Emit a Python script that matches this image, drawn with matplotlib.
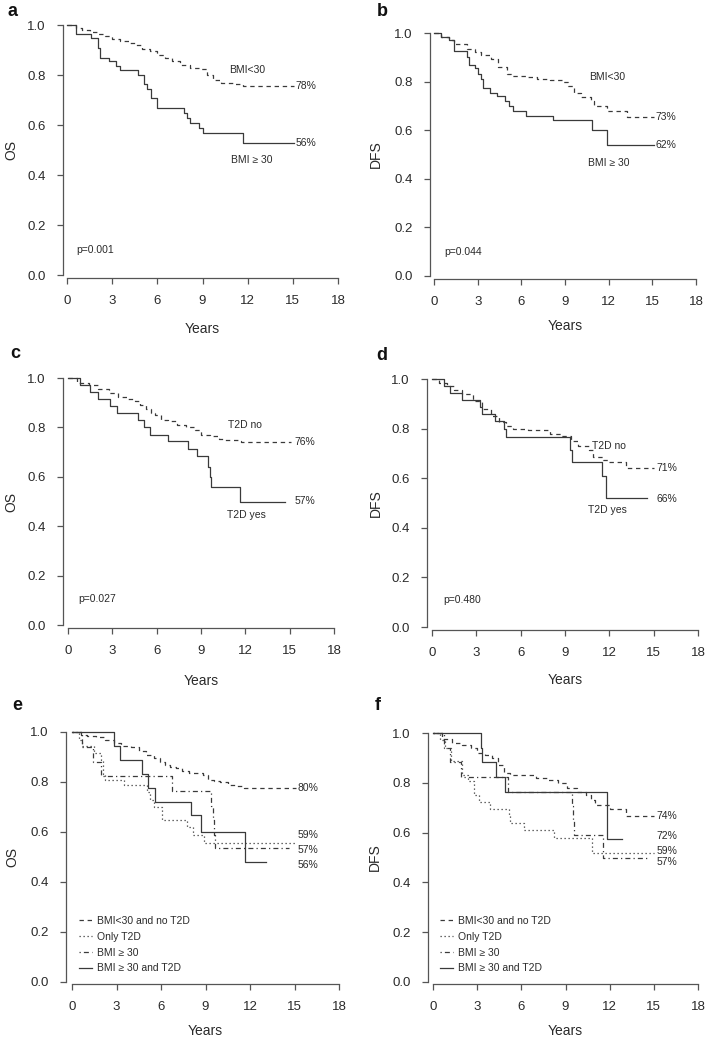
import numpy as np
import matplotlib
matplotlib.use("Agg")
import matplotlib.pyplot as plt

plt.rcParams['font.family'] = ['Liberation Sans', 'DejaVu Sans']

W, H = 708, 1040

# ---- data (Kaplan-Meier step curves) ----
# panel a: OS by BMI
a_lo_t = [0, 0.6, 1.0, 1.5, 2.0, 2.5, 3.0, 3.5, 4.2, 4.6, 5.0, 5.5, 6.0, 6.5, 7.0, 7.5, 8.2, 8.9, 9.3, 9.7, 10.2, 11.0, 11.7, 15.1]
a_lo_s = [1.0, 0.99, 0.98, 0.972, 0.965, 0.955, 0.945, 0.935, 0.93, 0.92, 0.905, 0.895, 0.88, 0.87, 0.855, 0.84, 0.83, 0.825, 0.80, 0.78, 0.77, 0.765, 0.755, 0.755]
a_hi_t = [0, 0.6, 1.6, 2.05, 2.2, 2.8, 3.25, 3.5, 4.7, 5.1, 5.3, 5.6, 6.0, 7.8, 8.0, 8.2, 8.75, 9.0, 11.7, 15.1]
a_hi_s = [1.0, 0.965, 0.947, 0.91, 0.87, 0.855, 0.837, 0.82, 0.80, 0.765, 0.745, 0.71, 0.67, 0.65, 0.63, 0.61, 0.59, 0.568, 0.528, 0.528]

# panel b: DFS by BMI
b_lo_t = [0, 0.5, 1.0, 1.4, 2.3, 2.8, 3.2, 3.9, 4.4, 5.0, 5.3, 6.4, 7.1, 8.0, 8.8, 9.2, 9.6, 10.1, 10.8, 11.0, 11.9, 13.25, 15.1]
b_lo_s = [1.0, 0.985, 0.97, 0.955, 0.935, 0.92, 0.91, 0.895, 0.86, 0.83, 0.825, 0.82, 0.81, 0.805, 0.80, 0.78, 0.755, 0.735, 0.72, 0.70, 0.68, 0.653, 0.653]
b_hi_t = [0, 0.5, 1.0, 1.4, 2.25, 2.4, 2.8, 3.0, 3.2, 3.35, 3.85, 4.3, 4.9, 5.15, 5.4, 6.3, 8.2, 10.85, 11.86, 15.1]
b_hi_s = [1.0, 0.985, 0.97, 0.925, 0.90, 0.87, 0.855, 0.83, 0.81, 0.775, 0.755, 0.74, 0.72, 0.70, 0.68, 0.66, 0.64, 0.60, 0.54, 0.54]

# panel c: OS by T2D
c_no_t = [0, 0.6, 1.4, 2.0, 2.8, 3.4, 4.0, 4.5, 4.9, 5.3, 5.6, 5.9, 6.3, 6.8, 7.4, 8.0, 8.6, 9.0, 9.6, 10.2, 10.6, 11.6, 11.7, 15.1]
c_no_s = [1.0, 0.98, 0.97, 0.955, 0.94, 0.925, 0.915, 0.905, 0.89, 0.875, 0.86, 0.85, 0.83, 0.825, 0.81, 0.80, 0.79, 0.77, 0.765, 0.755, 0.75, 0.745, 0.74, 0.74]
c_yes_t = [0, 0.83, 1.46, 2.0, 2.86, 3.3, 4.77, 5.15, 5.56, 6.8, 8.15, 8.76, 9.5, 9.6, 9.7, 11.65, 14.7]
c_yes_s = [1.0, 0.972, 0.943, 0.915, 0.886, 0.857, 0.829, 0.80, 0.771, 0.743, 0.714, 0.683, 0.64, 0.60, 0.56, 0.50, 0.50]

# panel d: DFS by T2D
d_no_t = [0, 0.5, 1.0, 1.5, 2.0, 2.8, 3.4, 4.0, 4.5, 5.0, 5.5, 6.5, 8.0, 8.7, 9.4, 9.9, 10.6, 10.9, 11.6, 12.0, 13.15, 15.0]
d_no_s = [1.0, 0.985, 0.97, 0.955, 0.94, 0.91, 0.88, 0.85, 0.825, 0.81, 0.80, 0.795, 0.78, 0.77, 0.75, 0.73, 0.715, 0.685, 0.675, 0.665, 0.643, 0.643]
d_yes_t = [0, 0.8, 1.24, 2.0, 3.27, 3.35, 4.27, 4.85, 5.03, 9.37, 9.48, 11.47, 11.8, 14.56]
d_yes_s = [1.0, 0.972, 0.943, 0.914, 0.886, 0.857, 0.829, 0.80, 0.766, 0.714, 0.667, 0.607, 0.52, 0.52]

# panel e: OS, four groups
e_lo_t = [0, 0.6, 1.0, 1.6, 2.2, 2.8, 3.3, 4.0, 4.5, 5.0, 5.5, 5.9, 6.3, 6.6, 7.0, 7.4, 7.9, 8.8, 9.2, 9.6, 10.0, 10.5, 11.0, 11.6, 15.1]
e_lo_s = [1.0, 0.99, 0.985, 0.98, 0.97, 0.955, 0.945, 0.94, 0.925, 0.91, 0.895, 0.88, 0.87, 0.86, 0.855, 0.845, 0.835, 0.83, 0.81, 0.805, 0.80, 0.79, 0.785, 0.775, 0.775]
e_t2d_t = [0, 0.5, 0.7, 1.45, 1.95, 2.06, 2.2, 3.5, 5.08, 5.26, 5.5, 6.08, 7.76, 8.17, 8.93, 15.03]
e_t2d_s = [1.0, 0.97, 0.944, 0.917, 0.889, 0.833, 0.81, 0.787, 0.76, 0.73, 0.70, 0.65, 0.62, 0.59, 0.556, 0.556]
e_bmi_t = [0, 0.7, 1.4, 1.95, 6.76, 9.37, 9.5, 9.6, 9.66, 14.6]
e_bmi_s = [1.0, 0.941, 0.882, 0.824, 0.765, 0.706, 0.647, 0.59, 0.535, 0.535]
e_both_t = [0, 2.84, 3.22, 4.74, 5.15, 5.57, 8.05, 8.7, 11.68, 13.1]
e_both_s = [1.0, 0.944, 0.889, 0.833, 0.778, 0.722, 0.667, 0.60, 0.48, 0.48]

# panel f: DFS, four groups
f_lo_t = [0, 0.6, 1.3, 2.0, 2.6, 3.0, 3.5, 4.0, 4.4, 4.8, 5.2, 7.0, 7.8, 8.5, 9.1, 9.8, 10.4, 10.7, 11.0, 12.0, 13.1, 15.0]
f_lo_s = [1.0, 0.975, 0.96, 0.95, 0.94, 0.92, 0.91, 0.90, 0.87, 0.84, 0.83, 0.82, 0.81, 0.80, 0.78, 0.765, 0.75, 0.73, 0.71, 0.695, 0.668, 0.668]
f_t2d_t = [0, 0.5, 0.8, 1.2, 1.97, 2.4, 2.76, 3.1, 3.9, 5.14, 5.25, 6.2, 8.2, 10.8, 15.0]
f_t2d_s = [1.0, 0.97, 0.94, 0.889, 0.833, 0.806, 0.75, 0.722, 0.694, 0.667, 0.639, 0.611, 0.58, 0.52, 0.52]
f_bmi_t = [0, 0.72, 1.18, 1.9, 5.07, 9.43, 9.5, 9.56, 11.54, 14.6]
f_bmi_s = [1.0, 0.941, 0.882, 0.824, 0.765, 0.706, 0.647, 0.59, 0.50, 0.50]
f_both_t = [0, 3.26, 3.33, 4.3, 4.9, 11.8, 12.83]
f_both_s = [1.0, 0.941, 0.882, 0.824, 0.765, 0.573, 0.573]

legend_labels = ["BMI<30 and no T2D", "Only T2D", "BMI \u2265 30", "BMI \u2265 30 and T2D"]
pvals = {"a": "p=0.001", "b": "p=0.044", "c": "p=0.027", "d": "p=0.480"}

LC = "#3a3a3a"
TC = "#2a2a2a"
DASH = (0, (3.5, 3))
DOT = (0, (1, 2.2))
DASHDOT = (0, (1, 2.5, 4, 2.5))

fig = plt.figure(figsize=(W / 100, H / 100), dpi=100)


def make_axes(geo):
    # geo: y-axis x, x=0 px, x=18 px, x-axis y, y=0 px, y=1 px
    yax, x0, x18, xax, y0, y1 = geo
    ppx = (x18 - x0) / 18
    ppy = (y0 - y1)
    right = x18 + 6
    top = y1 - 6
    ax = fig.add_axes([yax / W, (H - xax) / H, (right - yax) / W, (xax - top) / H])
    ax.set_xlim(-(x0 - yax) / ppx, 18 + 6 / ppx)
    ax.set_ylim(-(xax - y0) / ppy, 1 + 6 / ppy)
    for s in ["top", "right"]:
        ax.spines[s].set_visible(False)
    for s in ["left", "bottom"]:
        ax.spines[s].set_color("#555555")
        ax.spines[s].set_linewidth(0.9)
    ax.spines["left"].set_bounds(0, 1)
    ax.spines["bottom"].set_bounds(0, 18)
    ax.set_xticks(np.arange(0, 19, 3))
    ax.set_yticks(np.arange(0, 1.01, 0.2))
    ax.set_yticklabels(["%.1f" % v for v in np.arange(0, 1.01, 0.2)])
    ax.tick_params(length=4.3, width=0.9, pad=8, labelsize=9.5,
                   colors="#555555", labelcolor=TC)
    ax.patch.set_visible(False)
    xc = (x0 + x18) / 2
    return ax, xc, (y0 + y1) / 2


def kmstep(ax, t, s, ls):
    ax.step(t, s, where="post", color=LC, lw=0.9, linestyle=ls)


def txt(ax, x, y, s, ha="left", size=7.5):
    ax.text(x, y, s, ha=ha, va="center", fontsize=size, color=TC)


geos = {
    "a": (63, 67, 338, 278, 275, 25),
    "b": (430, 434, 696, 279, 276, 33),
    "c": (63, 68, 334, 628, 625, 378),
    "d": (427, 432, 698, 630, 627, 379),
    "e": (66, 72, 339, 984, 982, 732),
    "f": (428, 433, 698, 984, 982, 733),
}
ylabels = {"a": "OS", "b": "DFS", "c": "OS", "d": "DFS", "e": "OS", "f": "DFS"}
ylab_x = {"a": 11, "b": 376, "c": 11, "d": 376, "e": 12, "f": 375}
years_y = {"a": 329, "b": 326, "c": 681, "d": 680, "e": 1031, "f": 1031}
letter_pos = {"a": (8, 16), "b": (377, 16), "c": (10, 358), "d": (376, 360), "e": (12, 710), "f": (375, 710)}

axes = {}
for k, g in geos.items():
    ax, xc, yc = make_axes(g)
    axes[k] = ax
    fig.text(xc / W, 1 - years_y[k] / H, "Years", ha="center", va="center", fontsize=10, color=TC)
    fig.text(ylab_x[k] / W, 1 - yc / H, ylabels[k], ha="center", va="center",
             rotation=90, fontsize=10, color=TC)
    lx, ly = letter_pos[k]
    fig.text(lx / W, 1 - ly / H, k, ha="left", va="baseline", fontsize=13,
             fontweight="bold", color="#111111")

# a
ax = axes["a"]
kmstep(ax, a_lo_t, a_lo_s, DASH)
kmstep(ax, a_hi_t, a_hi_s, "-")
txt(ax, 12.0, 0.82, "BMI<30", ha="center")
txt(ax, 15.15, 0.755, "78%")
txt(ax, 15.15, 0.528, "56%")
txt(ax, 12.3, 0.46, "BMI \u2265 30", ha="center")
txt(ax, 0.6, 0.10, pvals["a"])

# b
ax = axes["b"]
kmstep(ax, b_lo_t, b_lo_s, DASH)
kmstep(ax, b_hi_t, b_hi_s, "-")
txt(ax, 11.9, 0.82, "BMI<30", ha="center")
txt(ax, 15.2, 0.653, "73%")
txt(ax, 15.2, 0.54, "62%")
txt(ax, 12.0, 0.463, "BMI \u2265 30", ha="center")
txt(ax, 0.73, 0.10, pvals["b"])

# c
ax = axes["c"]
kmstep(ax, c_no_t, c_no_s, DASH)
kmstep(ax, c_yes_t, c_yes_s, "-")
txt(ax, 12.0, 0.81, "T2D no", ha="center")
txt(ax, 15.3, 0.74, "76%")
txt(ax, 15.3, 0.50, "57%")
txt(ax, 12.1, 0.445, "T2D yes", ha="center")
txt(ax, 0.72, 0.107, pvals["c"])

# d
ax = axes["d"]
kmstep(ax, d_no_t, d_no_s, DASH)
kmstep(ax, d_yes_t, d_yes_s, "-")
txt(ax, 12.0, 0.73, "T2D no", ha="center")
txt(ax, 15.2, 0.643, "71%")
txt(ax, 15.2, 0.515, "66%")
txt(ax, 11.85, 0.47, "T2D yes", ha="center")
txt(ax, 0.75, 0.11, pvals["d"])

# e
ax = axes["e"]
kmstep(ax, e_lo_t, e_lo_s, DASH)
kmstep(ax, e_t2d_t, e_t2d_s, DOT)
kmstep(ax, e_bmi_t, e_bmi_s, DASHDOT)
kmstep(ax, e_both_t, e_both_s, "-")
for y, s in zip([0.775, 0.587, 0.527, 0.467], ["80%", "59%", "57%", "56%"]):
    txt(ax, 15.2, y, s)

# f
ax = axes["f"]
kmstep(ax, f_lo_t, f_lo_s, DASH)
kmstep(ax, f_t2d_t, f_t2d_s, DOT)
kmstep(ax, f_bmi_t, f_bmi_s, DASHDOT)
kmstep(ax, f_both_t, f_both_s, "-")
for y, s in zip([0.668, 0.587, 0.527, 0.48], ["74%", "72%", "59%", "57%"]):
    txt(ax, 15.2, y, s)

for k in ["e", "f"]:
    ax = axes[k]
    handles = ax.get_lines()[:4]
    leg = ax.legend(handles, legend_labels, loc="lower left", bbox_to_anchor=(0.45, 0.035),
                    bbox_transform=ax.transData, frameon=False, fontsize=7.5,
                    handlelength=1.3, handletextpad=0.5, labelspacing=0.55,
                    borderpad=0, borderaxespad=0)
    for t in leg.get_texts():
        t.set_color(TC)

fig.savefig("out.png", dpi=100)
